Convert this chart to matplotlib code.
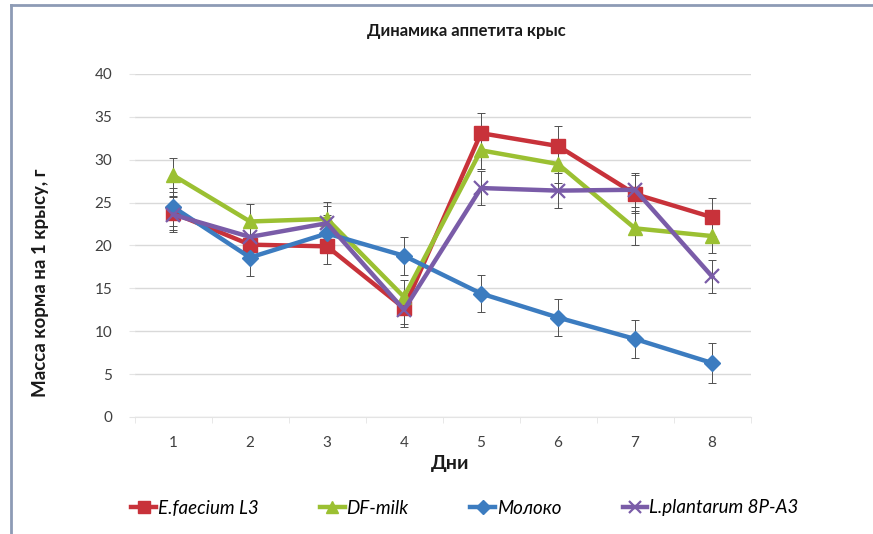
import matplotlib
matplotlib.use("Agg")
import matplotlib.pyplot as plt
from matplotlib.lines import Line2D

plt.rcParams['font.family'] = ['Lato', 'DejaVu Sans']

days = [1, 2, 3, 4, 5, 6, 7, 8]
day_labels = ['1', '2', '3', '4', '5', '6', '7', '8']

faecium = [23.8, 20.1, 19.9, 12.7, 33.1, 31.6, 26.0, 23.3]
faecium_err = [2.0, 2.0, 2.0, 1.8, 2.4, 2.3, 2.2, 2.2]

df_milk = [28.2, 22.8, 23.1, 14.0, 31.1, 29.5, 22.0, 21.1]
df_milk_err = [2.0, 2.0, 2.0, 2.0, 2.2, 2.2, 2.0, 2.0]

moloko = [24.5, 18.6, 21.4, 18.8, 14.4, 11.6, 9.1, 6.3]
moloko_err = [2.2, 2.2, 2.2, 2.2, 2.2, 2.2, 2.2, 2.3]

plantarum = [23.6, 21.0, 22.6, 12.5, 26.7, 26.4, 26.5, 16.4]
plantarum_err = [2.0, 2.0, 2.0, 2.0, 2.0, 2.0, 2.0, 1.9]

series = [
    ('E.faecium L3', faecium, faecium_err, '#C8323A', 's', 9.5, 1.0),
    ('DF-milk', df_milk, df_milk_err, '#9BC032', '^', 10, 1.0),
    ('Молоко', moloko, moloko_err, '#3C7CC0', 'D', 8, 1.0),
    ('L.plantarum 8P-A3', plantarum, plantarum_err, '#7A5CA8', 'x', 10, 1.6),
]

W, H = 873, 534
fig = plt.figure(figsize=(W / 100, H / 100), dpi=100)
ax = fig.add_axes([134.5 / W, 1 - 417 / H, (750.5 - 134.5) / W, (417 - 74) / H])

ax.set_xlim(0.5, 8.5)
ax.set_ylim(0, 40)
ax.set_yticks(range(0, 41, 5))
ax.yaxis.grid(True, color='#d9d9d9', linewidth=1.0)
ax.set_axisbelow(True)
for side in ('left', 'right', 'top'):
    ax.spines[side].set_visible(False)
ax.spines['bottom'].set_color('#e4e4e4')
ax.spines['bottom'].set_linewidth(0.8)

ax.set_xticks(days)
ax.set_xticklabels(day_labels)
ax.set_xticks([d + 0.5 for d in [0] + days], minor=True)
ax.tick_params(axis='x', which='major', length=0, pad=14, labelsize=11, labelcolor='#404040')
ax.tick_params(axis='x', which='minor', length=4, color='#e4e4e4')
ax.tick_params(axis='y', length=4, color='#e4e4e4', pad=12, labelsize=11, labelcolor='#404040')

for name, vals, errs, color, marker, ms, mew in series:
    ax.errorbar(days, vals, yerr=errs, fmt='none', ecolor='#505050',
                elinewidth=0.7, capsize=3, capthick=0.7, zorder=2)
    ax.plot(days, vals, color=color, linewidth=3.2, marker=marker,
            markersize=ms, markeredgewidth=mew, markerfacecolor=color,
            markeredgecolor=color, label=name, zorder=3)

fig.text(466 / W, 1 - 31 / H, 'Динамика аппетита крыс', ha='center', va='center',
         fontsize=12, fontweight='bold', color='#1a1a1a')
fig.text(41 / W, 1 - 283 / H, 'Масса корма на 1 крысу, г', ha='center', va='center',
         rotation=90, fontsize=13.5, fontweight='bold', color='#1a1a1a')
fig.text(450 / W, 1 - 464 / H, 'Дни', ha='center', va='center',
         fontsize=14, fontweight='bold', color='#1a1a1a')

handles = [Line2D([], [], color=c, linewidth=3.2, marker=m, markersize=ms * 0.9,
                  markeredgewidth=mew, markerfacecolor=c, markeredgecolor=c)
           for _, _, _, c, m, ms, mew in series]
labels = [s[0] for s in series]
fig.legend(handles, labels, loc='center', bbox_to_anchor=(465 / W, 1 - 508 / H),
           ncol=4, frameon=False, handlelength=1.3, handletextpad=0.1,
           columnspacing=3.3, prop={'style': 'italic', 'size': 13.5})

# outer frame of the chart area
fig.add_artist(Line2D([11 / W, 11 / W], [0, 1 - 5 / H], transform=fig.transFigure,
                      color='#8d9bb5', linewidth=2))
fig.add_artist(Line2D([11 / W, 1], [1 - 5 / H, 1 - 5 / H], transform=fig.transFigure,
                      color='#8d9bb5', linewidth=2))

fig.savefig('out.png', dpi=100)
